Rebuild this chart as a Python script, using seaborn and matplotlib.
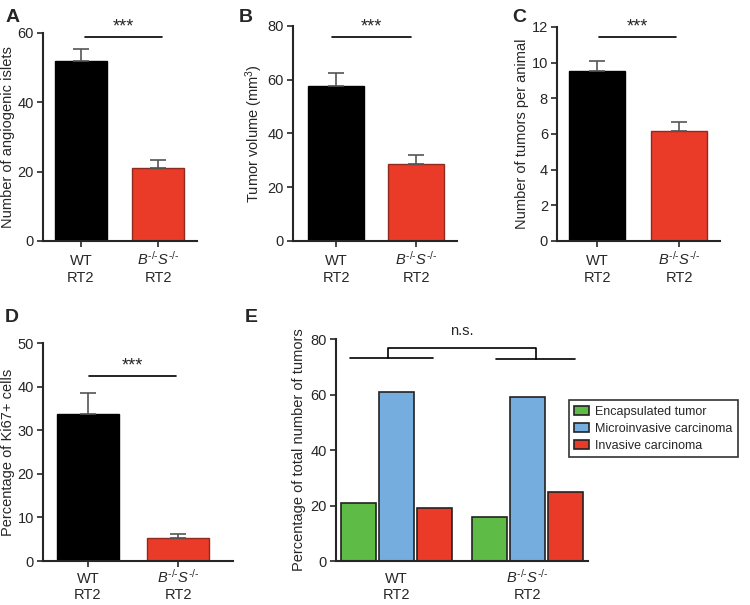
import numpy as np
import pandas as pd
import seaborn as sns
import matplotlib.pyplot as plt

sns.set_style("ticks")
plt.rcParams['font.family'] = ['Liberation Sans', 'DejaVu Sans']
plt.rcParams['mathtext.fontset'] = 'custom'
plt.rcParams['mathtext.rm'] = 'Liberation Sans'
plt.rcParams['mathtext.it'] = 'Liberation Sans:italic'
plt.rcParams['mathtext.bf'] = 'Liberation Sans:bold'

# ------------------------------
# DATA
# ------------------------------
groups = ["WT", "KO"]
tick_top = ["WT", "$\\mathit{B}^{\\text{-/-}}\\mathit{S}^{\\text{-/-}}$"]
tick_bottom = ["RT2", "RT2"]

islets_mean = [52.0, 21.0]
islets_top = [55.5, 23.5]

volume_mean = [57.5, 28.5]
volume_top = [62.5, 32.0]

tumors_mean = [9.55, 6.15]
tumors_top = [10.1, 6.65]

ki67_mean = [33.7, 5.2]
ki67_top = [38.6, 6.1]

tumor_types = ["Encapsulated tumor", "Microinvasive carcinoma", "Invasive carcinoma"]
wt_pct = [21, 61, 19]
ko_pct = [16, 59, 25]

BLACK = "#000000"
RED = "#EA3A28"
GREEN = "#5DBB46"
BLUE = "#76ADDF"

fig = plt.figure(figsize=(7.5, 6.05), dpi=100)


def group_labels(ax, off1, off2):
    # two-line category labels, both lines on a common baseline
    ax.set_xticks([0, 1])
    ax.set_xticklabels(["", ""])
    for x, t1, t2 in zip([0, 1], tick_top, tick_bottom):
        for txt, off in [(t1, off1), (t2, off2)]:
            ax.annotate(txt, xy=(x, 0), xycoords=("data", "axes fraction"),
                        xytext=(0, -off), textcoords="offset points",
                        ha="center", va="baseline", fontsize=10.5,
                        annotation_clip=False)


def simple_panel(rect, means, tops, ylim, yticks, ylabel, xlim, width, sig,
                 offs):
    ax = fig.add_axes(rect)
    sns.barplot(x=groups, y=means, hue=groups, palette=[BLACK, RED],
                width=width, errorbar=None, legend=False, saturation=1, ax=ax)
    ax.patches[0].set_edgecolor(BLACK)
    ax.patches[1].set_edgecolor("#8f2a1f")
    for p in ax.patches:
        p.set_linewidth(1.0)
    err = np.array(tops) - np.array(means)
    ax.errorbar([0, 1], means, yerr=[np.zeros(2), err], fmt="none",
                ecolor="#555555", elinewidth=1.2, capsize=5.5, capthick=1.2,
                zorder=1)
    ax.set_xlim(*xlim)
    ax.set_ylim(*ylim)
    ax.set_yticks(yticks)
    group_labels(ax, *offs)
    ax.set_ylabel(ylabel, fontsize=10.5, labelpad=2)
    ax.tick_params(direction="out", length=4, width=1.2, labelsize=10.5, pad=2.5)
    sns.despine(ax=ax)
    for s in ["left", "bottom"]:
        ax.spines[s].set_linewidth(1.5)
    x0, x1, y = sig
    ax.plot([x0, x1], [y, y], color="black", lw=1.2, clip_on=False)
    ax.annotate("***", xy=((x0 + x1) / 2, y), xytext=(0, 7),
                textcoords="offset points", ha="center", va="center",
                fontsize=13, annotation_clip=False)
    return ax


top_offs = (17.0, 29.3)
bot_offs = (15.8, 27.4)

simple_panel([0.0573, 0.6017, 0.2053, 0.3438], islets_mean, islets_top,
             (0, 60), [0, 20, 40, 60], "Number of angiogenic islets",
             (-0.49, 1.5), 0.67, (0.05, 1.05, 58.8), top_offs)
simple_panel([0.3907, 0.6017, 0.2187, 0.3554], volume_mean, volume_top,
             (0, 80), [0, 20, 40, 60, 80], "Tumor volume (mm$^3$)",
             (-0.54, 1.51), 0.7, (-0.05, 0.93, 75.9), top_offs)
simple_panel([0.7427, 0.6017, 0.2173, 0.3537], tumors_mean, tumors_top,
             (0, 12), [0, 2, 4, 6, 8, 10, 12], "Number of tumors per animal",
             (-0.49, 1.5), 0.68, (0.02, 0.96, 11.44), top_offs)
simple_panel([0.0573, 0.0727, 0.2533, 0.3603], ki67_mean, ki67_top,
             (0, 50), [0, 10, 20, 30, 40, 50], "Percentage of Ki67+ cells",
             (-0.5, 1.61), 0.69, (0.01, 0.98, 42.4), bot_offs)

# ------------------------------
# PANEL E
# ------------------------------
df = pd.DataFrame({
    "genotype": ["WT"] * 3 + ["KO"] * 3,
    "type": tumor_types * 2,
    "pct": wt_pct + ko_pct,
})
axE = fig.add_axes([0.448, 0.0727, 0.336, 0.3669])
sns.barplot(data=df, x="genotype", y="pct", hue="type",
            palette=[GREEN, BLUE, RED], width=0.87, gap=0.08, saturation=1,
            edgecolor="#222222", linewidth=1.2, errorbar=None, ax=axE)
axE.set_xlim(-0.46, 1.46)
axE.set_ylim(0, 80)
axE.set_yticks([0, 20, 40, 60, 80])
axE.set_xlabel("")
group_labels(axE, *bot_offs)
axE.set_ylabel("Percentage of total number of tumors", fontsize=10.5, labelpad=3)
axE.tick_params(direction="out", length=4, width=1.2, labelsize=10.5, pad=2.5)
axE.tick_params(axis="x", length=0)
sns.despine(ax=axE)
for s in ["left", "bottom"]:
    axE.spines[s].set_linewidth(1.5)

# brackets
axE.plot([-0.355, 0.28], [73.3, 73.3], color="black", lw=1.2, clip_on=False)
axE.plot([0.76, 1.36], [72.9, 72.9], color="black", lw=1.2, clip_on=False)
axE.plot([-0.065, -0.065, 1.06, 1.06], [73.3, 76.9, 76.9, 72.9],
         color="black", lw=1.2, clip_on=False)
axE.text(0.5, 80.5, "n.s.", ha="center", va="bottom", fontsize=10.5)

handles, labels = axE.get_legend_handles_labels()
axE.get_legend().remove()
leg = axE.legend(handles, labels, loc="upper left",
                 bbox_to_anchor=(0.758, 0.339), bbox_transform=fig.transFigure,
                 fontsize=9.0, frameon=True, fancybox=False, edgecolor="black",
                 handlelength=1.2, handleheight=0.68, borderpad=0.46,
                 labelspacing=0.4, handletextpad=0.45, borderaxespad=0)
leg.get_frame().set_linewidth(1.2)

# panel letters
for lx, ly, letter in [(0.008, 0.985, "A"), (0.318, 0.985, "B"),
                       (0.683, 0.985, "C"), (0.006, 0.49, "D"),
                       (0.326, 0.49, "E")]:
    fig.text(lx, ly, letter, fontsize=14, fontweight="bold", va="top")

fig.savefig("out.png", dpi=100)
